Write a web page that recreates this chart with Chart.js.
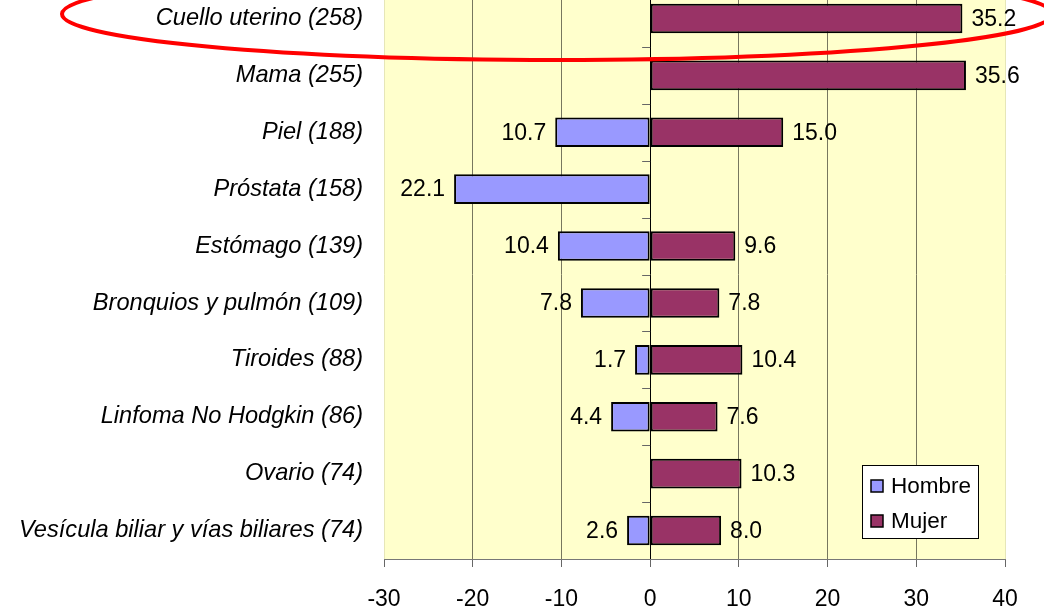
<!DOCTYPE html>
<html lang="es">
<head>
<meta charset="UTF-8">
<title>Cáncer por sexo</title>
<script src="https://cdn.jsdelivr.net/npm/chart.js"></script>
<style>
  html, body { margin: 0; padding: 0; background: #ffffff; overflow: hidden; }
  .wrap { position: absolute; left: 0; top: -10px; width: 1044px; height: 617px; }
</style>
</head>
<body>
<div class="wrap"><canvas id="chart" width="1044" height="617"></canvas></div>
<script>
const categories = [
  'Cuello uterino (258)',
  'Mama (255)',
  'Piel (188)',
  'Próstata (158)',
  'Estómago (139)',
  'Bronquios y pulmón (109)',
  'Tiroides (88)',
  'Linfoma No Hodgkin (86)',
  'Ovario (74)',
  'Vesícula biliar y vías biliares (74)'
];
const hombre = [null, null, -10.7, -22.1, -10.4, -7.8, -1.7, -4.4, null, -2.6];
const mujer = [35.2, 35.6, 15.0, null, 9.6, 7.8, 10.4, 7.6, 10.3, 8.0];
const xTicks = [-30, -20, -10, 0, 10, 20, 30, 40];

const FONT = "'Liberation Sans', Arial, sans-serif";

// yellow plot background
const plotBg = {
  id: 'plotBg',
  beforeDraw(chart) {
    const a = chart.chartArea, c = chart.ctx;
    c.save();
    c.fillStyle = '#FFFFCC';
    c.fillRect(a.left, a.top, a.right - a.left, a.bottom - a.top);
    c.restore();
  }
};

// value labels, small category ticks on the zero line, legend box, red ellipse
const extras = {
  id: 'extras',
  afterDatasetsDraw(chart) {
    const c = chart.ctx, a = chart.chartArea;
    const xs = chart.scales.x, ys = chart.scales.y;
    const zeroX = xs.getPixelForValue(0);

    c.save();
    c.strokeStyle = '#666';
    c.lineWidth = 1;
    for (let i = 0; i < categories.length - 1; i++) {
      const yb = Math.round((ys.getPixelForValue(i) + ys.getPixelForValue(i + 1)) / 2) + 0.5;
      c.beginPath();
      c.moveTo(zeroX - 8, yb);
      c.lineTo(zeroX, yb);
      c.stroke();
    }

    c.font = '23px ' + FONT;
    c.fillStyle = '#000';
    c.textBaseline = 'middle';
    chart.data.datasets.forEach((ds, di) => {
      chart.getDatasetMeta(di).data.forEach((bar, i) => {
        const v = ds.data[i];
        if (v === null) return;
        const txt = Math.abs(v).toFixed(1);
        if (v < 0) {
          c.textAlign = 'right';
          c.fillText(txt, bar.x - 9, bar.y + 1);
        } else {
          c.textAlign = 'left';
          c.fillText(txt, bar.x + 9, bar.y + 1);
        }
      });
    });

    // legend
    const bw = 116, bh = 73;
    const bx = a.right - 27 - bw, by = a.bottom - 21 - bh;
    c.fillStyle = '#fff';
    c.fillRect(bx, by, bw, bh);
    c.strokeStyle = '#000';
    c.lineWidth = 1;
    c.strokeRect(bx + 0.5, by + 0.5, bw, bh);
    c.font = '22.5px ' + FONT;
    c.textAlign = 'left';
    chart.data.datasets.forEach((ds, di) => {
      const cy = by + 21 + di * 35;
      c.fillStyle = ds.backgroundColor;
      c.fillRect(bx + 9, cy - 6, 12, 12);
      c.strokeStyle = '#000';
      c.lineWidth = 1.5;
      c.strokeRect(bx + 9, cy - 6, 12, 12);
      c.fillStyle = '#000';
      c.fillText(ds.label, bx + 29, cy + 1);
    });

    // red ellipse around the first row
    c.strokeStyle = '#FF0000';
    c.lineWidth = 4;
    c.beginPath();
    c.ellipse(557, 24, 495, 46, 0, 0, Math.PI * 2);
    c.stroke();
    c.restore();
  }
};

new Chart(document.getElementById('chart'), {
  type: 'bar',
  data: {
    labels: categories,
    datasets: [
      {
        label: 'Hombre',
        data: hombre,
        backgroundColor: '#9999FF',
        borderColor: '#000',
        borderWidth: 2,
        borderSkipped: false,
        categoryPercentage: 0.52,
        barPercentage: 1
      },
      {
        label: 'Mujer',
        data: mujer,
        backgroundColor: '#993366',
        borderColor: '#000',
        borderWidth: 2,
        borderSkipped: false,
        categoryPercentage: 0.52,
        barPercentage: 1
      }
    ]
  },
  options: {
    indexAxis: 'y',
    responsive: false,
    animation: false,
    layout: { padding: { top: 0, right: 39, bottom: 0, left: 0 } },
    plugins: {
      legend: { display: false },
      tooltip: { enabled: false }
    },
    scales: {
      x: {
        stacked: true,
        min: -30,
        max: 40,
        afterBuildTicks(scale) {
          scale.ticks = xTicks.map(v => ({ value: v }));
        },
        afterFit(scale) {
          scale.height = 48;
          scale.paddingLeft = 0;
          scale.paddingRight = 0;
        },
        ticks: {
          color: '#000',
          font: { family: FONT, size: 23 },
          padding: 19,
          maxRotation: 0,
          callback: v => String(v)
        },
        grid: {
          color: ctx => {
            const v = ctx.tick && ctx.tick.value;
            if (v === 0) return '#000';
            if (v === -30 || v === 40) return '#E6E6B8';
            return '#77775F';
          },
          tickColor: '#666',
          tickLength: 8,
          lineWidth: 1
        },
        border: { color: '#777', width: 1 }
      },
      y: {
        stacked: true,
        afterFit(scale) {
          scale.width = 384;
          scale.paddingTop = 0;
          scale.paddingBottom = 0;
        },
        ticks: {
          color: '#000',
          font: { family: FONT, size: 23.6, style: 'italic' },
          padding: 21
        },
        grid: { display: false, drawTicks: false },
        border: { display: false }
      }
    }
  },
  plugins: [plotBg, extras]
});
</script>
</body>
</html>
